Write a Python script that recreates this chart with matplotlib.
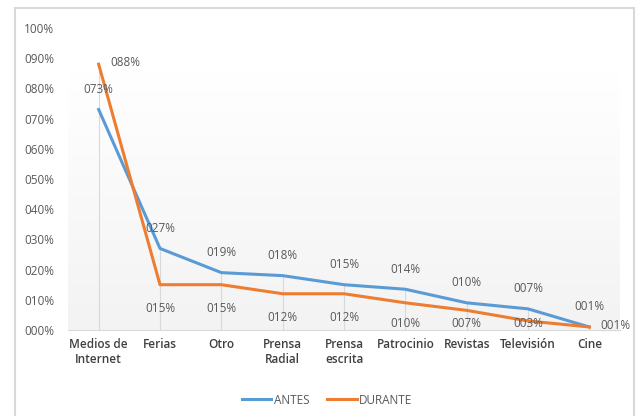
import matplotlib.pyplot as plt
import numpy as np
from matplotlib.patches import Rectangle

categorias = ['Medios de\nInternet', 'Ferias', 'Otro', 'Prensa\nRadial', 'Prensa\nescrita',
              'Patrocinio', 'Revistas', 'Televisión', 'Cine']
antes = [0.73, 0.27, 0.19, 0.18, 0.15, 0.135, 0.09, 0.07, 0.01]
durante = [0.88, 0.15, 0.15, 0.12, 0.12, 0.09, 0.065, 0.03, 0.01]
etiq_antes = ['073%', '027%', '019%', '018%', '015%', '014%', '010%', '007%', '001%']
etiq_durante = ['088%', '015%', '015%', '012%', '012%', '010%', '007%', '003%', '001%']

azul = '#5B9BD5'
naranja = '#ED7D31'
gris = '#595959'

plt.rcParams['font.family'] = ['Open Sans', 'DejaVu Sans']

fig = plt.figure(figsize=(6.37, 4.16), dpi=100)
fig.patches.append(Rectangle((15 / 637, -0.05), 619 / 637, 1 - 8 / 416 + 0.05,
                             transform=fig.transFigure, fill=False,
                             edgecolor='#d9d9d9', linewidth=1.5))
ax = fig.add_axes([68 / 637, 1 - 330 / 416, 552 / 637, 302 / 416])

x = np.arange(len(categorias))

# fondo degradado
grad = np.linspace(0, 1, 100).reshape(-1, 1)
ax.imshow(np.clip(grad * 1.15, 0, 1), extent=[-0.5, len(x) - 0.5, 0, 1], aspect='auto',
          cmap=plt.matplotlib.colors.LinearSegmentedColormap.from_list('g', ['#f3f3f3', '#ffffff']),
          origin='lower', zorder=0)

# lineas de caida
ax.vlines(x, 0, np.maximum(antes, durante), color='#d9d9d9', linewidth=0.8, zorder=1)

ax.plot(x, antes, color=azul, linewidth=2.2, label='ANTES', zorder=3)
ax.plot(x, durante, color=naranja, linewidth=2.2, label='DURANTE', zorder=3)

for i in x:
    ax.annotate(etiq_antes[i], (i, antes[i]), xytext=(0, 14.5), textcoords='offset points',
                ha='center', va='center', fontsize=8.5, color=gris)
    if i == 0 or i == len(x) - 1:
        ax.annotate(etiq_durante[i], (i, durante[i]), xytext=(19, 1), textcoords='offset points',
                    ha='center', va='center', fontsize=8.5, color=gris)
    else:
        # Excel mantiene la etiqueta dentro del area del grafico
        ax.text(i, max(durante[i] - 0.078, 0.022), etiq_durante[i],
                ha='center', va='center', fontsize=8.5, color=gris, zorder=4)

ax.set_xlim(-0.5, len(x) - 0.5)
ax.set_ylim(0, 1)
ax.set_xticks(x)
ax.set_xticklabels(categorias, fontsize=8.5, color='#404040', fontweight='semibold')
ticks = np.arange(0, 101, 10)
ax.set_yticks(ticks / 100)
ax.set_yticklabels(['%03d%%' % t for t in ticks], fontsize=8.5, color=gris)
ax.tick_params(axis='both', length=0)
ax.tick_params(axis='y', pad=10)
ax.tick_params(axis='x', pad=6)
for s in ['top', 'right', 'left']:
    ax.spines[s].set_visible(False)
ax.spines['bottom'].set_color('#d9d9d9')

ax.legend(loc='center', bbox_to_anchor=(327 / 637, 1 - 400 / 416), bbox_transform=fig.transFigure,
          ncol=2, frameon=False, fontsize=8.5, handlelength=2.5, columnspacing=1.5,
          labelcolor=gris, handletextpad=0.2)

fig.savefig('out.png', dpi=100)
